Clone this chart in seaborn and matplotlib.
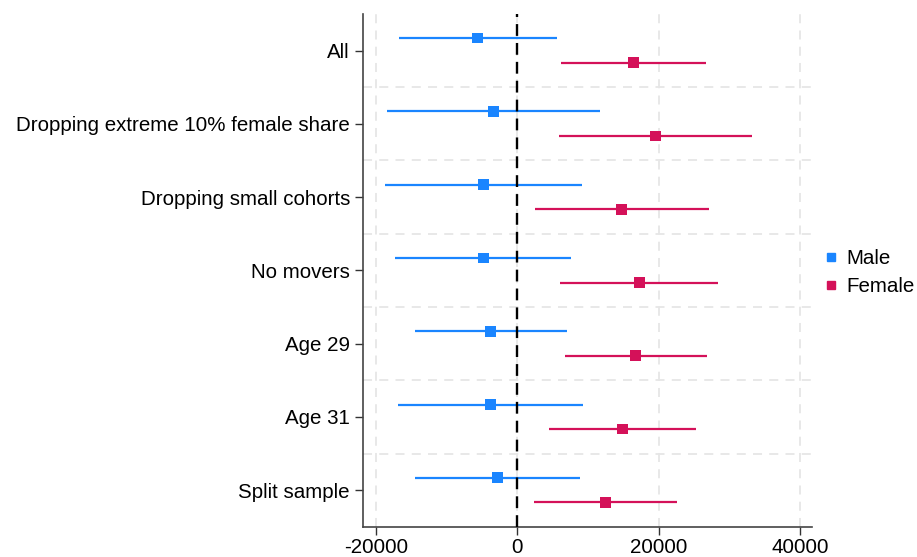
import matplotlib
matplotlib.use("Agg")
import matplotlib.pyplot as plt
import seaborn as sns
import pandas as pd
import numpy as np
from matplotlib.lines import Line2D

categories = ["All", "Dropping extreme 10% female share", "Dropping small cohorts",
              "No movers", "Age 29", "Age 31", "Split sample"]
male_est = [-5660, -3390, -4810, -4810, -3820, -3820, -2830]
male_lo = [-16780, -18470, -18710, -17300, -14470, -16970, -14510]
male_hi = [5570, 11740, 9100, 7600, 6990, 9290, 8870]
female_est = [16410, 19520, 14710, 17260, 16690, 14850, 12450]
female_lo = [6220, 5940, 2460, 6040, 6700, 4480, 2400]
female_hi = [26730, 33290, 27110, 28480, 26790, 25320, 22590]
xticks = [-20000, 0, 20000, 40000]

sns.set_theme(style="white")
plt.rcParams['font.family'] = ['Liberation Sans', 'DejaVu Sans']
plt.rcParams['text.color'] = 'black'

colors = {"Male": "#1a85ff", "Female": "#d41159"}
offset = {"Male": -0.17, "Female": 0.165}

rows = []
for i, c in enumerate(categories):
    rows.append(dict(cat=c, pos=i + offset["Male"], sex="Male", est=male_est[i], lo=male_lo[i], hi=male_hi[i]))
    rows.append(dict(cat=c, pos=i + offset["Female"], sex="Female", est=female_est[i], lo=female_lo[i], hi=female_hi[i]))
df = pd.DataFrame(rows)

fig = plt.figure(figsize=(9.17, 5.57), dpi=100)
ax = fig.add_axes([0.396, 0.054, 0.490, 0.921])

# grid
for x in xticks:
    ax.axvline(x, color="#e6e6e6", lw=1.3, ls=(0, (5, 4)), zorder=0)
for k in range(len(categories) - 1):
    ax.axhline(k + 0.5, color="#e6e6e6", lw=1.3, ls=(0, (5, 4)), zorder=0)

for sex in ["Male", "Female"]:
    d = df[df.sex == sex]
    ax.hlines(d["pos"], d["lo"], d["hi"], color=colors[sex], lw=1.6, zorder=2)

ax.axvline(0, color="black", lw=1.7, ls=(0, (5, 3)), zorder=3)

sns.scatterplot(data=df, x="est", y="pos", hue="sex", palette=colors, marker="s",
                s=60, edgecolor="none", ax=ax, zorder=4, legend=False)

ax.set_xlim(-21850, 41800)
ax.set_ylim(len(categories) - 0.5, -0.5)
ax.set_yticks(range(len(categories)))
ax.set_yticklabels(categories)
ax.set_xticks(xticks)
ax.set_xticklabels([str(x) for x in xticks])
ax.set_xlabel("")
ax.set_ylabel("")
ax.tick_params(axis="both", labelsize=14.8, length=6, width=1, color="#333333",
               direction="out", pad=3, left=True, bottom=True, labelcolor="black")
ax.tick_params(axis="y", pad=3.5)
ax.tick_params(axis="x", pad=2)
for s in ["top", "right"]:
    ax.spines[s].set_visible(False)
for s in ["left", "bottom"]:
    ax.spines[s].set_color("#444444")
    ax.spines[s].set_linewidth(1.2)

handles = [Line2D([], [], marker="s", ls="none", color=colors[s], markersize=6) for s in ["Male", "Female"]]
fig.legend(handles, ["Male", "Female"], loc="center left", bbox_to_anchor=(0.897, 0.511),
           frameon=False, fontsize=14.8, handletextpad=0.35, labelspacing=0.45, handlelength=0.8,
           borderaxespad=0, borderpad=0, labelcolor="black")

fig.savefig("out.png", dpi=100)
